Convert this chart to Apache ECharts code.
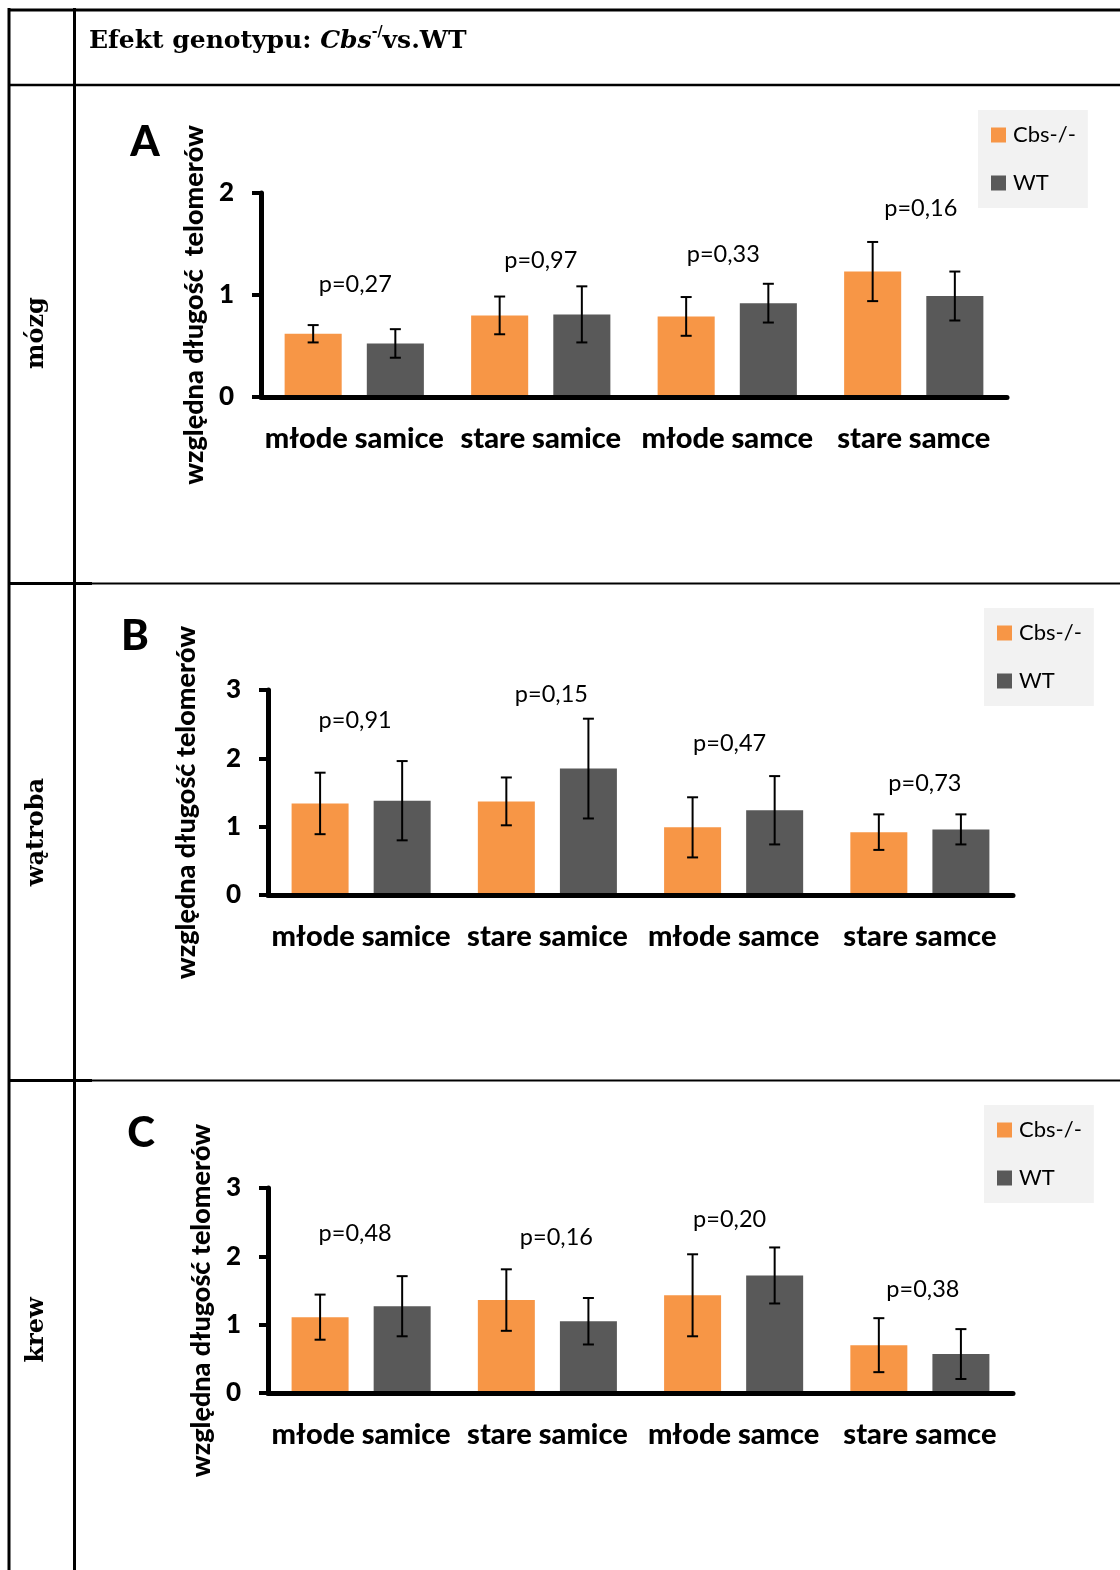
<!DOCTYPE html>
<html><head><meta charset="utf-8">
<script src="https://cdn.jsdelivr.net/npm/echarts@6/dist/echarts.min.js"></script>
<style>html,body{margin:0;padding:0;background:#fff}#c{width:1120px;height:1570px}</style>
</head><body><div id="c"></div><script>
// ---------- DATA ----------
const categories = ['młode samice', 'stare samice', 'młode samce', 'stare samce'];
const seriesNames = ['Cbs-/-', 'WT'];
const panelLetters = ['A', 'B', 'C'];
const rowLabels = ['mózg', 'wątroba', 'krew'];
const yTitles = ['względna długość  telomerów', 'względna długość telomerów', 'względna długość telomerów'];
const yMax = [2, 3, 3];

// A – mózg
const brainCbs = [0.62, 0.80, 0.79, 1.23];
const brainCbsErr = [0.085, 0.185, 0.19, 0.29];
const brainWT = [0.525, 0.81, 0.92, 0.99];
const brainWTErr = [0.14, 0.275, 0.19, 0.24];
const brainP = ['p=0,27', 'p=0,97', 'p=0,33', 'p=0,16'];
const brainPY = [1.10, 1.34, 1.40, 1.85];

// B – wątroba
const liverCbs = [1.34, 1.37, 0.99, 0.92];
const liverCbsErr = [0.45, 0.35, 0.44, 0.26];
const liverWT = [1.38, 1.85, 1.24, 0.96];
const liverWTErr = [0.58, 0.73, 0.50, 0.22];
const liverP = ['p=0,91', 'p=0,15', 'p=0,47', 'p=0,73'];
const liverPY = [2.56, 2.93, 2.22, 1.63];

// C – krew
const bloodCbs = [1.11, 1.36, 1.43, 0.70];
const bloodCbsErr = [0.33, 0.45, 0.60, 0.395];
const bloodWT = [1.27, 1.05, 1.72, 0.57];
const bloodWTErr = [0.44, 0.34, 0.41, 0.365];
const bloodP = ['p=0,48', 'p=0,16', 'p=0,20', 'p=0,38'];
const bloodPY = [2.33, 2.28, 2.54, 1.51];

// ---------- LAYOUT / STYLE ----------
const panels = [
  {cbs: brainCbs, cbsErr: brainCbsErr, wt: brainWT, wtErr: brainWTErr, p: brainP, py: brainPY},
  {cbs: liverCbs, cbsErr: liverCbsErr, wt: liverWT, wtErr: liverWTErr, p: liverP, py: liverPY},
  {cbs: bloodCbs, cbsErr: bloodCbsErr, wt: bloodWT, wtErr: bloodWTErr, p: bloodP, py: bloodPY}
];
const pLabelNudge = [[1, 0, -4, 7], [-6, 4, -4, 5], [-6, 9, -4, 3]]; // px, text placement only
const grids = [
  {left: 261, top: 193, width: 746, height: 204},
  {left: 268, top: 690, width: 745, height: 205},
  {left: 268, top: 1188, width: 745, height: 205}
];
const nameGaps = [47, 68, 52];
const legendPos = [{left: 978, top: 110}, {left: 984, top: 608}, {left: 984, top: 1105}];
const letterPos = [[145, 142], [135, 636], [141, 1133]];
const rowLabelPos = [[37, 333], [37, 832], [37, 1330]];
const COLORS = ['#F79646', '#595959'];
const BAR_FRAC = 0.306, BAR_GAP = 0.44;
const FONT = 'Lato';

function errRender(side) {
  return function (params, api) {
    const ci = api.value(0), v = api.value(1), e = api.value(2);
    const band = api.size([1, 0])[0];
    const bw = band * BAR_FRAC, gap = bw * BAR_GAP;
    const off = (bw + gap) / 2 * side;
    const top = api.coord([ci, v + e]);
    const bot = api.coord([ci, v - e]);
    const x = top[0] + off;
    const cap = 5.5;
    const st = {stroke: '#000', lineWidth: 2};
    return {type: 'group', children: [
      {type: 'line', shape: {x1: x, y1: top[1], x2: x, y2: bot[1]}, style: st},
      {type: 'line', shape: {x1: x - cap, y1: top[1], x2: x + cap, y2: top[1]}, style: st},
      {type: 'line', shape: {x1: x - cap, y1: bot[1], x2: x + cap, y2: bot[1]}, style: st}
    ]};
  };
}

const option = {
  animation: false,
  backgroundColor: '#fff',
  grid: grids,
  legend: legendPos.map(p => ({
    data: seriesNames, left: p.left, top: p.top, orient: 'vertical',
    backgroundColor: '#f2f2f2', padding: [14, 12, 14, 13],
    itemWidth: 15, itemHeight: 15, itemGap: 26, icon: 'rect', selectedMode: false,
    textStyle: {fontFamily: FONT, fontSize: 22, color: '#000', padding: [0, 0, 0, 2]}
  })),
  xAxis: grids.map((g, i) => ({
    type: 'category', gridIndex: i, data: categories, z: 10,
    axisLine: {lineStyle: {color: '#000', width: 5}},
    axisTick: {show: false},
    axisLabel: {fontFamily: FONT, fontWeight: 900, fontSize: 29, color: '#000', margin: 27, interval: 0}
  })),
  yAxis: grids.map((g, i) => ({
    type: 'value', gridIndex: i, min: 0, max: yMax[i], interval: 1, z: 10,
    axisLine: {show: true, lineStyle: {color: '#000', width: 5}},
    axisTick: {show: true, length: 9, lineStyle: {color: '#000', width: 4}},
    splitLine: {show: false},
    axisLabel: {fontFamily: FONT, fontWeight: 900, fontSize: 26, color: '#000', margin: 27},
    name: yTitles[i], nameLocation: 'middle', nameRotate: 90, nameGap: nameGaps[i],
    nameTextStyle: {fontFamily: FONT, fontWeight: 900, fontSize: 27, color: '#000', padding: [0, 20, 0, 0]}
  })),
  series: [],
  graphic: []
};

panels.forEach((p, i) => {
  option.series.push(
    {name: seriesNames[0], type: 'bar', xAxisIndex: i, yAxisIndex: i, data: p.cbs,
     barWidth: (BAR_FRAC * 100) + '%', barGap: (BAR_GAP * 100) + '%', itemStyle: {color: COLORS[0]}},
    {name: seriesNames[1], type: 'bar', xAxisIndex: i, yAxisIndex: i, data: p.wt,
     barWidth: (BAR_FRAC * 100) + '%', barGap: (BAR_GAP * 100) + '%', itemStyle: {color: COLORS[1]}},
    {type: 'custom', xAxisIndex: i, yAxisIndex: i, z: 5, renderItem: errRender(-1),
     data: p.cbs.map((v, k) => [k, v, p.cbsErr[k]]), encode: {x: 0, y: 1}},
    {type: 'custom', xAxisIndex: i, yAxisIndex: i, z: 5, renderItem: errRender(1),
     data: p.wt.map((v, k) => [k, v, p.wtErr[k]]), encode: {x: 0, y: 1}},
    {type: 'custom', xAxisIndex: i, yAxisIndex: i, z: 6,
     data: p.py.map((v, k) => [k, v]), encode: {x: 0, y: 1},
     renderItem: (params, api) => {
       const pt = api.coord([api.value(0), api.value(1)]);
       return {type: 'text', x: pt[0] + pLabelNudge[i][params.dataIndex], y: pt[1],
         style: {text: p.p[params.dataIndex], fill: '#000', font: '23.5px ' + FONT, align: 'center', verticalAlign: 'middle'}};
     }}
  );
});

// table lines (decoration)
const L = (x1, y1, x2, y2, w) => ({type: 'line', shape: {x1, y1, x2, y2}, style: {stroke: '#000', lineWidth: w}, z: 100});
option.graphic.push(
  L(8, 10, 1120, 10, 3),
  L(9, 8, 9, 1570, 3),
  L(74.5, 8, 74.5, 1570, 3),
  L(8, 85, 1120, 85, 2.5),
  L(8, 583.5, 92, 583.5, 3), L(92, 583.5, 1120, 583.5, 2),
  L(8, 1080.5, 92, 1080.5, 3), L(92, 1080.5, 1120, 1080.5, 2)
);
option.graphic.push({
  type: 'text', left: 89, top: 25, z: 100,
  style: {
    text: '{a|Efekt genotypu: }{b|Cbs}{c|-/}{a|vs.WT}',
    rich: {
      a: {fontFamily: 'DejaVu Serif', fontWeight: 'bold', fontSize: 25, fill: '#000', lineHeight: 32},
      b: {fontFamily: 'DejaVu Serif', fontWeight: 'bold', fontStyle: 'italic', fontSize: 25, fill: '#000', lineHeight: 32},
      c: {fontFamily: 'DejaVu Serif', fontWeight: 'bold', fontSize: 14, fill: '#000', lineHeight: 20, verticalAlign: 'top'}
    }
  }
});
rowLabels.forEach((t, i) => {
  option.graphic.push({type: 'text', x: rowLabelPos[i][0], y: rowLabelPos[i][1], rotation: Math.PI / 2, z: 100,
    style: {text: t, fill: '#000', font: 'bold 24px "DejaVu Serif"', align: 'center', verticalAlign: 'middle'}});
});
panelLetters.forEach((t, i) => {
  option.graphic.push({type: 'text', x: letterPos[i][0], y: letterPos[i][1], z: 100,
    style: {text: t, fill: '#000', font: '900 42px ' + FONT, align: 'center', verticalAlign: 'middle'}});
});

const chart = echarts.init(document.getElementById('c'), null, {renderer: 'canvas'});
chart.setOption(option);
</script></body></html>
